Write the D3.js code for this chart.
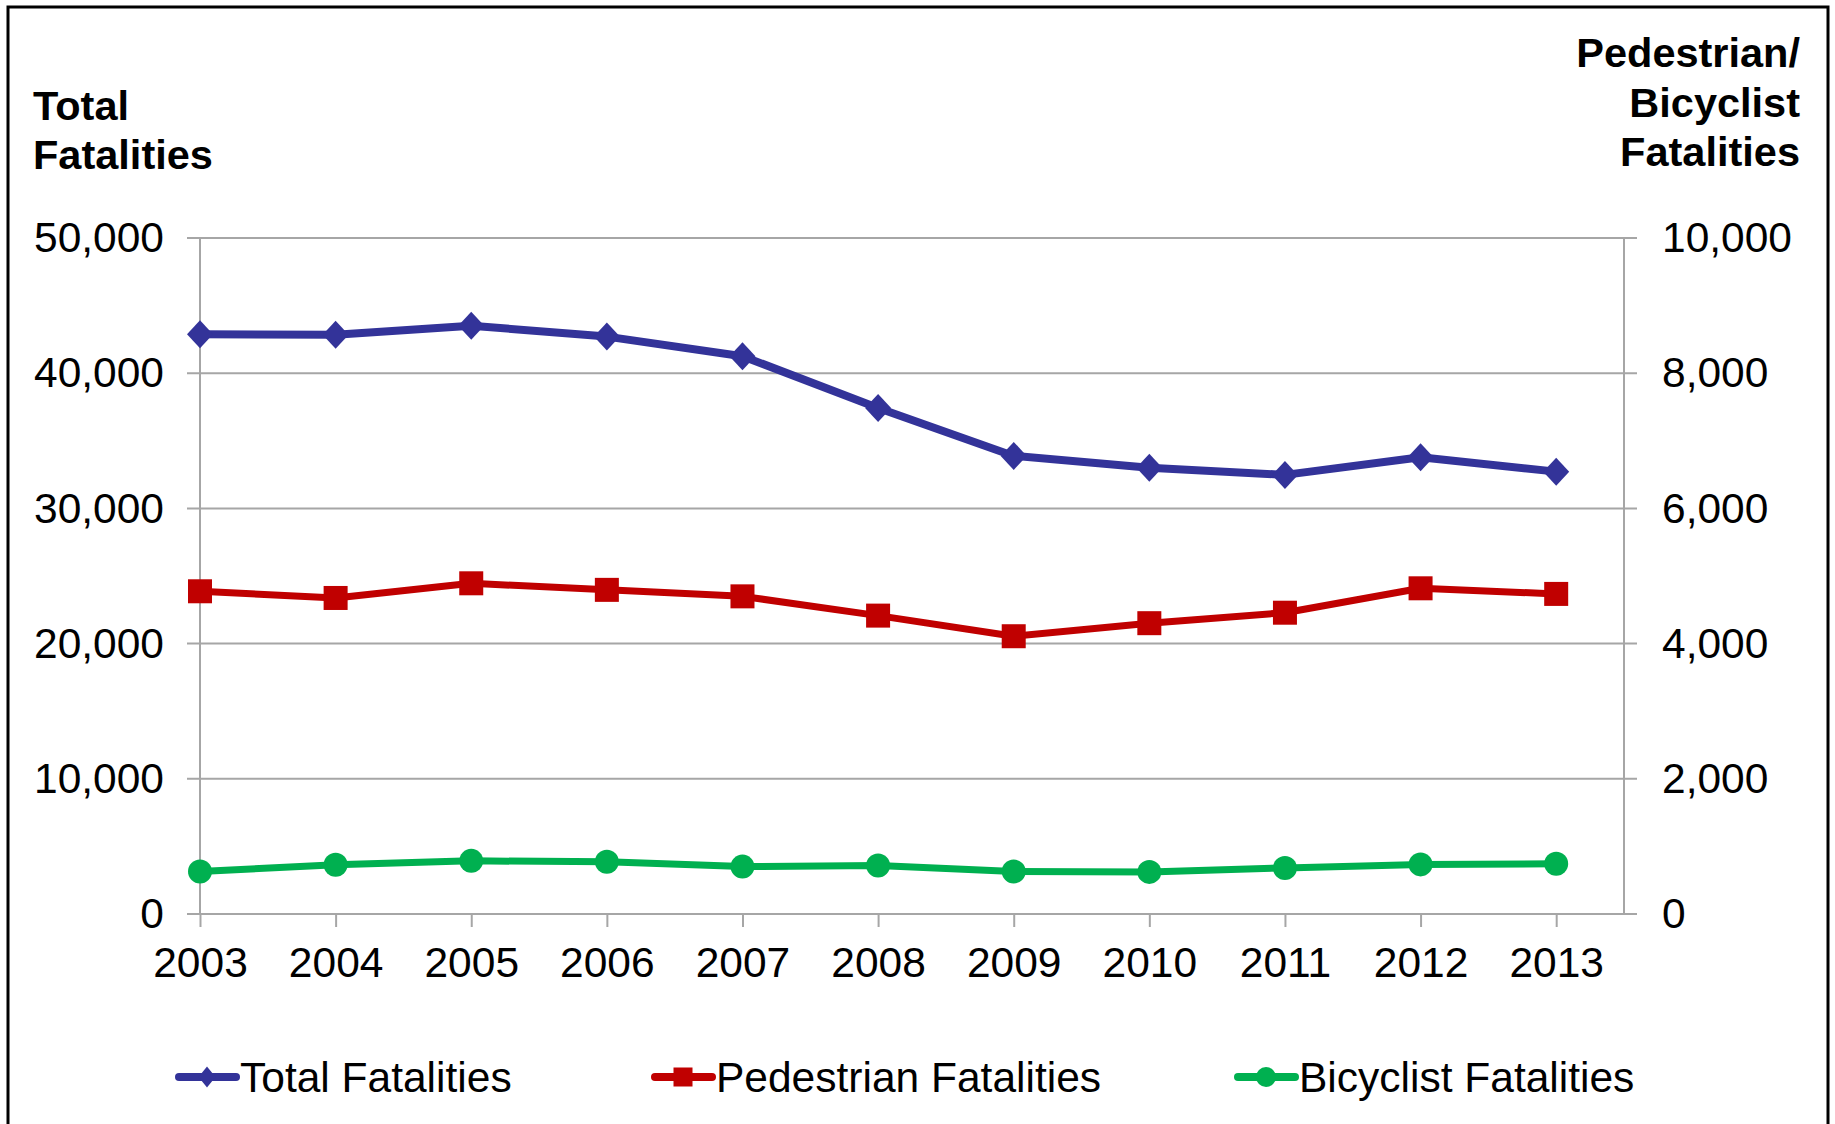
<!DOCTYPE html>
<html>
<head>
<meta charset="utf-8">
<script src="https://cdn.jsdelivr.net/npm/d3@7"></script>
<style>
  body { margin: 0; background: #fff; }
  text { font-family: "Liberation Sans", Arial, sans-serif; fill: #000; }
</style>
</head>
<body>
<div id="chart"></div>
<script>
// data
const years = [2003, 2004, 2005, 2006, 2007, 2008, 2009, 2010, 2011, 2012, 2013];
const totalFatalities = [42884, 42836, 43510, 42708, 41259, 37423, 33883, 32999, 32479, 33782, 32719];
const pedestrianFatalities = [4774, 4675, 4892, 4795, 4699, 4414, 4109, 4302, 4457, 4818, 4735];
const bicyclistFatalities = [629, 727, 786, 772, 701, 718, 628, 623, 682, 734, 743];
const leftTicks = [0, 10000, 20000, 30000, 40000, 50000];
const rightTicks = [0, 2000, 4000, 6000, 8000, 10000];
const seriesNames = ["Total Fatalities", "Pedestrian Fatalities", "Bicyclist Fatalities"];

var width = 1835, height = 1124;
var plot = { left: 200, right: 1624, top: 238, bottom: 914 };

var svg = d3.select("#chart")
  .append("svg")
  .attr("width", width)
  .attr("height", height);

// outer frame
svg.append("rect")
  .attr("x", 8).attr("y", 7)
  .attr("width", 1820).attr("height", 1140)
  .attr("fill", "none")
  .attr("stroke", "#000")
  .attr("stroke-width", 3);

// scales
var x = d3.scaleLinear()
  .domain([years[0], years[years.length - 1] + 0.5])
  .range([plot.left, plot.right]);

var yLeft = d3.scaleLinear()
  .domain([0, 50000])
  .range([plot.bottom, plot.top]);

var yRight = d3.scaleLinear()
  .domain([0, 10000])
  .range([plot.bottom, plot.top]);

var fmt = d3.format(",");
var gridColor = "#a6a6a6";

// horizontal gridlines (with the small ticks outside both axes)
svg.append("g")
  .selectAll("line")
  .data(leftTicks)
  .enter()
  .append("line")
  .attr("x1", plot.left - 13)
  .attr("x2", plot.right + 13)
  .attr("y1", d => yLeft(d))
  .attr("y2", d => yLeft(d))
  .attr("stroke", gridColor)
  .attr("stroke-width", 2);

// vertical axis lines
svg.append("line")
  .attr("x1", plot.left).attr("x2", plot.left)
  .attr("y1", plot.top).attr("y2", plot.bottom)
  .attr("stroke", gridColor).attr("stroke-width", 2);
svg.append("line")
  .attr("x1", plot.right).attr("x2", plot.right)
  .attr("y1", plot.top).attr("y2", plot.bottom)
  .attr("stroke", gridColor).attr("stroke-width", 2);

// left axis labels
var leftAxis = svg.append("g")
  .attr("transform", "translate(" + plot.left + ",0)")
  .call(d3.axisLeft(yLeft).tickValues(leftTicks).tickFormat(fmt).tickSize(0).tickPadding(36));
leftAxis.select(".domain").remove();
leftAxis.selectAll("text").style("font-size", "42.5px").attr("fill", "#000");

// right axis labels
var rightAxis = svg.append("g")
  .attr("transform", "translate(" + plot.right + ",0)")
  .call(d3.axisRight(yRight).tickValues(rightTicks).tickFormat(fmt).tickSize(0).tickPadding(38));
rightAxis.select(".domain").remove();
rightAxis.selectAll("text").style("font-size", "42.5px").attr("fill", "#000");

// x axis
var xAxis = svg.append("g")
  .attr("transform", "translate(0," + plot.bottom + ")")
  .call(d3.axisBottom(x).tickValues(years).tickFormat(d3.format("d")).tickSize(13).tickPadding(20));
xAxis.select(".domain").remove();
xAxis.selectAll("line").attr("stroke", gridColor).attr("stroke-width", 2);
xAxis.selectAll("text").style("font-size", "42.5px").attr("fill", "#000");

// axis titles
var leftTitle = svg.append("text")
  .style("font-size", "41.5px").style("font-weight", "bold");
leftTitle.append("tspan").attr("x", 33).attr("y", 120).text("Total");
leftTitle.append("tspan").attr("x", 33).attr("y", 169).text("Fatalities");

var rightTitle = svg.append("text")
  .attr("text-anchor", "end")
  .style("font-size", "41.5px").style("font-weight", "bold");
rightTitle.append("tspan").attr("x", 1800).attr("y", 67).text("Pedestrian/");
rightTitle.append("tspan").attr("x", 1800).attr("y", 117).text("Bicyclist");
rightTitle.append("tspan").attr("x", 1800).attr("y", 166).text("Fatalities");

// marker shapes
function diamond(g, cx, cy, w, h, color) {
  g.append("path")
    .attr("d", "M" + cx + "," + (cy - h / 2) + "L" + (cx + w / 2) + "," + cy +
      "L" + cx + "," + (cy + h / 2) + "L" + (cx - w / 2) + "," + cy + "Z")
    .attr("fill", color);
}
function square(g, cx, cy, s, color) {
  g.append("rect")
    .attr("x", cx - s / 2).attr("y", cy - s / 2)
    .attr("width", s).attr("height", s)
    .attr("fill", color);
}
function circle(g, cx, cy, r, color) {
  g.append("circle")
    .attr("cx", cx).attr("cy", cy).attr("r", r)
    .attr("fill", color);
}

var series = [
  { name: seriesNames[0], values: totalFatalities, y: yLeft, color: "#333399", lw: 8, marker: "diamond" },
  { name: seriesNames[1], values: pedestrianFatalities, y: yRight, color: "#c00000", lw: 7, marker: "square" },
  { name: seriesNames[2], values: bicyclistFatalities, y: yRight, color: "#00b050", lw: 7, marker: "circle" }
];

function drawMarker(g, s, cx, cy, small) {
  if (s.marker == "diamond") diamond(g, cx, cy, small ? 17 : 26, small ? 21 : 28, s.color);
  else if (s.marker == "square") square(g, cx, cy, small ? 19 : 24, s.color);
  else circle(g, cx, cy, small ? 10 : 12, s.color);
}

series.forEach(s => {
  var line = d3.line()
    .x((d, i) => x(years[i]))
    .y(d => s.y(d));
  svg.append("path")
    .datum(s.values)
    .attr("d", line)
    .attr("fill", "none")
    .attr("stroke", s.color)
    .attr("stroke-width", s.lw)
    .attr("stroke-linejoin", "round");
  var g = svg.append("g");
  s.values.forEach((v, i) => drawMarker(g, s, x(years[i]), s.y(v), false));
});

// legend
var legendX = [179, 655, 1238];
var legendY = 1077;
series.forEach((s, i) => {
  var g = svg.append("g");
  g.append("line")
    .attr("x1", legendX[i]).attr("x2", legendX[i] + 57)
    .attr("y1", legendY).attr("y2", legendY)
    .attr("stroke", s.color).attr("stroke-width", 8)
    .attr("stroke-linecap", "round");
  drawMarker(g, s, legendX[i] + 28, legendY, true);
  g.append("text")
    .attr("x", legendX[i] + 61)
    .attr("y", legendY)
    .attr("dy", "0.35em")
    .style("font-size", "42.5px")
    .text(s.name);
});
</script>
</body>
</html>
